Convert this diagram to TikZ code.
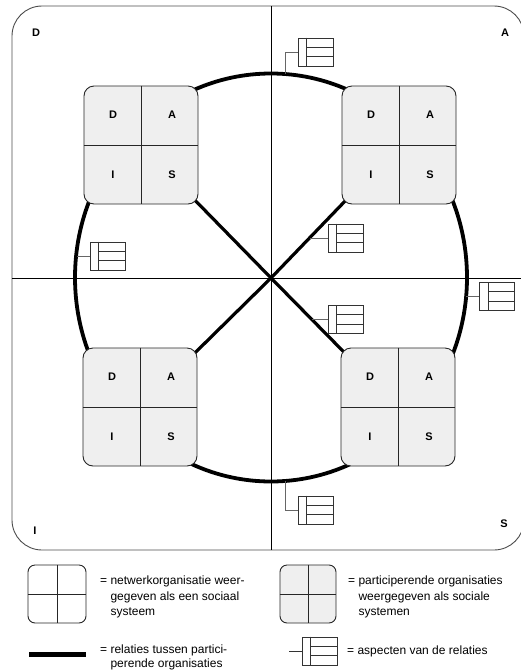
\documentclass[tikz,border=0pt]{standalone}
\usepackage{fontspec}
\setmainfont{Liberation Sans}
\usetikzlibrary{backgrounds,calc}
\definecolor{boxgray}{HTML}{EFEFEF}
\newcommand\aspicon[2]{%
  \node[aspect] (#1) at (#2) {};
  \draw[iconline] ($(#1.north west)+(9,0)$) -- ($(#1.south west)+(9,0)$)
    ($(#1.north west)!1/3!(#1.south west)+(9,0)$) -- ($(#1.north east)!1/3!(#1.south east)$)
    ($(#1.north west)!2/3!(#1.south west)+(9,0)$) -- ($(#1.north east)!2/3!(#1.south east)$);
}
\begin{document}
\begin{tikzpicture}[x=1pt,y=-1pt,
  quad/.style={draw=black!85, line width=0.9pt, rounded corners=10pt, minimum width=114pt, minimum height=118pt, inner sep=0pt, fill=boxgray},
  qline/.style={draw=black!85, line width=0.9pt},
  lbl/.style={font=\bfseries\fontsize{11}{13}\selectfont, inner sep=0pt},
  rel/.style={line width=3.8pt},
  diag/.style={line width=3.2pt},
  aspect/.style={draw=black!80, line width=0.8pt, minimum width=35pt, minimum height=28pt, inner sep=0pt, fill=white},
  iconline/.style={draw=black!80, line width=0.8pt},
  conn/.style={draw=black!60, line width=0.9pt},
  frame/.style={draw=black!70, line width=0.9pt, rounded corners=30pt},
  axis/.style={draw=black, line width=0.9pt},
  legtext/.style={font=\fontsize{12}{15.5}\selectfont, align=left, anchor=north west, inner sep=0pt}]

\useasboundingbox (0,0) rectangle (521,670);

% frame and axes
\draw[frame] (12,6) rectangle (524,550);
\coordinate (vt) at (271,6);
\coordinate (vb) at (271,550);
\coordinate (hl) at (12,278);
\coordinate (hr) at (524,278);
\draw[axis] (vt) -- (vb);
\draw[axis] (hl) -- (hr);

% relation circle
\coordinate (O) at (271,278);
\draw[rel] (271,277.5) ellipse [x radius=196pt, y radius=204pt];

% participating organisations
\foreach \nm/\px/\py in {TL/141/145, TR/399/145, BL/140/407, BR/398/407}{
  \node[quad] (\nm) at (\px,\py) {};
  \draw[qline] (\nm.north) -- (\nm.south);
  \draw[qline] (\nm.west) -- (\nm.east);
  \node[lbl] (\nm D) at ($(\nm.center)+(-28,-30)$) {D};
  \node[lbl] (\nm A) at ($(\nm.center)+(31,-30)$) {A};
  \node[lbl] (\nm I) at ($(\nm.center)+(-28,30)$) {I};
  \node[lbl] (\nm S) at ($(\nm.center)+(31,30)$) {S};
}
\begin{pgfonlayer}{background}
  \draw[diag] (O) -- (TL.center);
  \draw[diag] (O) -- (TR.center);
  \draw[diag] (O) -- (BL.center);
  \draw[diag] (O) -- (BR.center);
\end{pgfonlayer}

% corner labels
\node[lbl] (cD) at (36,33) {D};
\node[lbl] (cA) at (505,33) {A};
\node[lbl] (cI) at (35,531) {I};
\node[lbl] (cS) at (504,524) {S};

% aspects of relations
\aspicon{r1}{315.5,52}
\coordinate (c1) at (285,74);
\draw[conn] (c1) |- (r1.west);
\aspicon{r2}{107.5,256}
\coordinate (c2) at (77,256);
\draw[conn] (c2) -- (r2.west);
\aspicon{r3}{345.5,238}
\coordinate (c3) at (310,238);
\draw[conn] (c3) -- (r3.west);
\aspicon{r4}{345.5,319.5}
\coordinate (c4) at (312,319.5);
\draw[conn] (c4) -- (r4.west);
\aspicon{r5}{497,296.5}
\coordinate (c5) at (466,296.5);
\draw[conn] (c5) -- (r5.west);
\aspicon{r6}{315.5,510}
\coordinate (c6) at (285,481);
\draw[conn] (c6) |- (r6.west);

% legend
\node[quad, fill=white, minimum width=58pt, minimum height=58pt, rounded corners=7pt] (L1) at (57,594) {};
\draw[qline] (L1.north) -- (L1.south);
\draw[qline] (L1.west) -- (L1.east);
\node[legtext] (T1) at (100,576) {= netwerkorganisatie weer-\\\hspace*{10.3pt}gegeven als een sociaal\\\hspace*{10.3pt}systeem};

\node[quad, minimum width=56pt, minimum height=58pt, rounded corners=7pt] (L2) at (308,594) {};
\draw[qline] (L2.north) -- (L2.south);
\draw[qline] (L2.west) -- (L2.east);
\node[legtext] (T2) at (348,576) {= participerende organisaties\\\hspace*{10.3pt}weergegeven als sociale\\\hspace*{10.3pt}systemen};

\coordinate (la) at (29,654);
\coordinate (lb) at (86,654);
\draw[line width=5pt] (la) -- (lb);
\node[legtext, font=\fontsize{12}{13.2}\selectfont] (T3) at (100,645) {= relaties tussen partici-\\\hspace*{10.3pt}perende organisaties};

\aspicon{L4}{319.5,651}
\coordinate (c7) at (289,651);
\draw[iconline] (c7) -- (L4.west);
\node[legtext] (T4) at (347,646) {= aspecten van de relaties};
\end{tikzpicture}
\end{document}
